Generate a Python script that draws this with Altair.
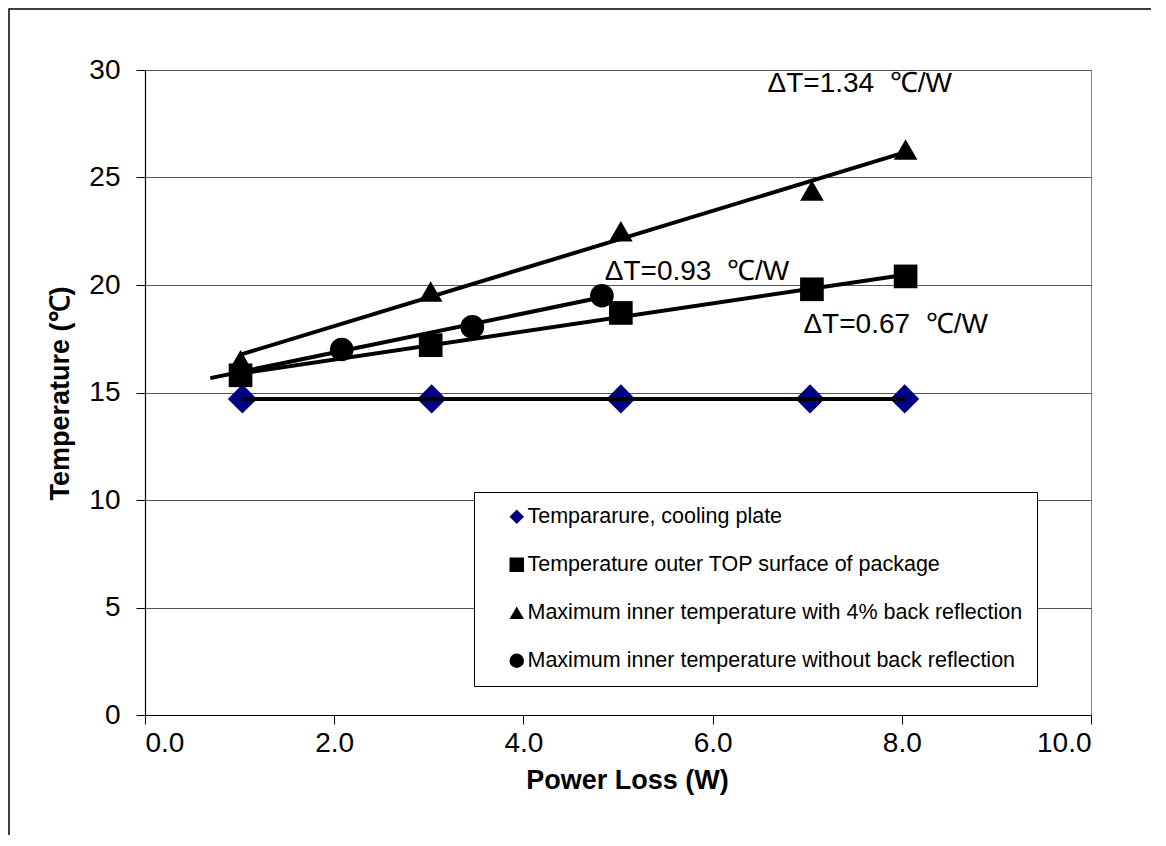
import altair as alt
import pandas as pd

# ---- data ----
series_names = [
    "Tempararure, cooling plate",
    "Temperature outer TOP surface of  package",
    "Maximum inner temperature with 4% back reflection",
    "Maximum inner temperature without back reflection",
]
x_plate = [1.03, 3.03, 5.03, 7.03, 8.03]
y_plate = [14.7, 14.7, 14.7, 14.7, 14.7]
x_top = [1.01, 3.02, 5.03, 7.05, 8.04]
y_top = [15.8, 17.2, 18.7, 19.8, 20.4]
x_back = [1.01, 3.02, 5.03, 7.05, 8.04]
y_back = [16.5, 19.7, 22.5, 24.4, 26.3]
x_noback = [2.08, 3.46, 4.83]
y_noback = [17.0, 18.05, 19.5]

# trend line extents (x range of each fitted line)
extent_top = [1.01, 8.04]
extent_back = [1.01, 8.04]
extent_noback = [0.69, 4.83]

ann_text = ["ΔT=1.34\u00a0 ℃/W", "ΔT=0.93\u00a0 ℃/W", "ΔT=0.67\u00a0 ℃/W"]
ann_x = [6.58, 4.86, 6.96]
ann_y = [28.98, 20.23, 17.77]

x_ticks = [0, 2, 4, 6, 8, 10]
y_ticks = [0, 5, 10, 15, 20, 25, 30]

shapes = ["diamond", "square", "triangle-up", "circle"]
colors = ["#000080", "#000000", "#000000", "#000000"]

# ---- tables ----
def frame(xs, ys, name):
    return pd.DataFrame({"x": xs, "y": ys, "series": name})

df_plate = frame(x_plate, y_plate, series_names[0])
df_top = frame(x_top, y_top, series_names[1])
df_back = frame(x_back, y_back, series_names[2])
df_noback = frame(x_noback, y_noback, series_names[3])
df_others = pd.concat([df_top, df_back, df_noback], ignore_index=True)
df_ann = pd.DataFrame({"t": ann_text, "x": ann_x, "y": ann_y})

FONT = "Liberation Sans"

xs = alt.Scale(domain=[0, 10], nice=False)
ys = alt.Scale(domain=[0, 30], nice=False)

X = alt.X("x:Q", scale=xs, title="Power Loss (W)",
          axis=alt.Axis(values=x_ticks, format=".1f", grid=False,
                        tickSize=9, labelPadding=5,
                        titleX=482, titleY=65, titleBaseline="middle"))
Y = alt.Y("y:Q", scale=ys, title="Temperature  (℃)",
          axis=alt.Axis(values=y_ticks, grid=True, tickSize=9, labelPadding=16,
                        titleX=-85, titleY=323, titleBaseline="middle",
                        titleAlign="center", titleAngle=-90))

border = alt.Chart(pd.DataFrame({"a": [0]})).mark_rect(
    fill=None, stroke="black", strokeWidth=1.5
).encode(x=alt.value(-136), x2=alt.value(1300), y=alt.value(-61), y2=alt.value(1000))

legend_opts = dict(title=None, orient="none", legendX=329, legendY=422)
SHAPE = alt.Shape("series:N", scale=alt.Scale(domain=series_names, range=shapes),
                  legend=alt.Legend(**legend_opts))
COLOR = alt.Color("series:N", scale=alt.Scale(domain=series_names, range=colors),
                  legend=alt.Legend(**legend_opts))

points_plate = alt.Chart(df_plate).mark_point(
    filled=True, opacity=1, size=850, strokeWidth=0
).encode(x=X, y=Y, shape=SHAPE, color=COLOR)

points_others = alt.Chart(df_others).mark_point(
    filled=True, opacity=1, size=560, strokeWidth=0
).encode(x=X, y=Y, shape=SHAPE, color=COLOR)

line_plate = alt.Chart(df_plate).mark_line(color="black", strokeWidth=4).encode(x=X, y=Y)

def trend(df, ext):
    return alt.Chart(df).transform_regression("x", "y", extent=ext).mark_line(
        color="black", strokeWidth=4).encode(x=X, y=Y)

lines = [trend(df_top, extent_top), trend(df_back, extent_back), trend(df_noback, extent_noback)]

texts = alt.Chart(df_ann).mark_text(
    align="left", baseline="alphabetic", fontSize=28, font=FONT, color="black"
).encode(x=X, y=Y, text="t:N")

chart = alt.layer(border, points_plate, points_others, line_plate, *lines, texts).properties(
    width=946, height=645,
    autosize=alt.AutoSizeParams(type="none"),
    padding={"left": 137, "top": 62, "right": 60, "bottom": 120},
    background="white",
).configure_view(
    stroke="#808080", strokeWidth=1
).configure_axis(
    labelFont=FONT, titleFont=FONT, labelFontSize=28, titleFontSize=27,
    titleFontWeight="bold", labelColor="black", titleColor="black",
    domainColor="black", tickColor="black",
    gridColor="#555555", gridWidth=1, domainWidth=1.2,
).configure_legend(
    strokeColor="black", fillColor="white", padding=14, rowPadding=25,
    labelFont=FONT, labelFontSize=21.5, labelColor="black", symbolSize=210,
    labelLimit=1000, cornerRadius=0, symbolStrokeWidth=0, labelOffset=0,
    symbolOffset=18,
)

chart.save("out.html", embed_options={"renderer": "svg", "actions": False})
